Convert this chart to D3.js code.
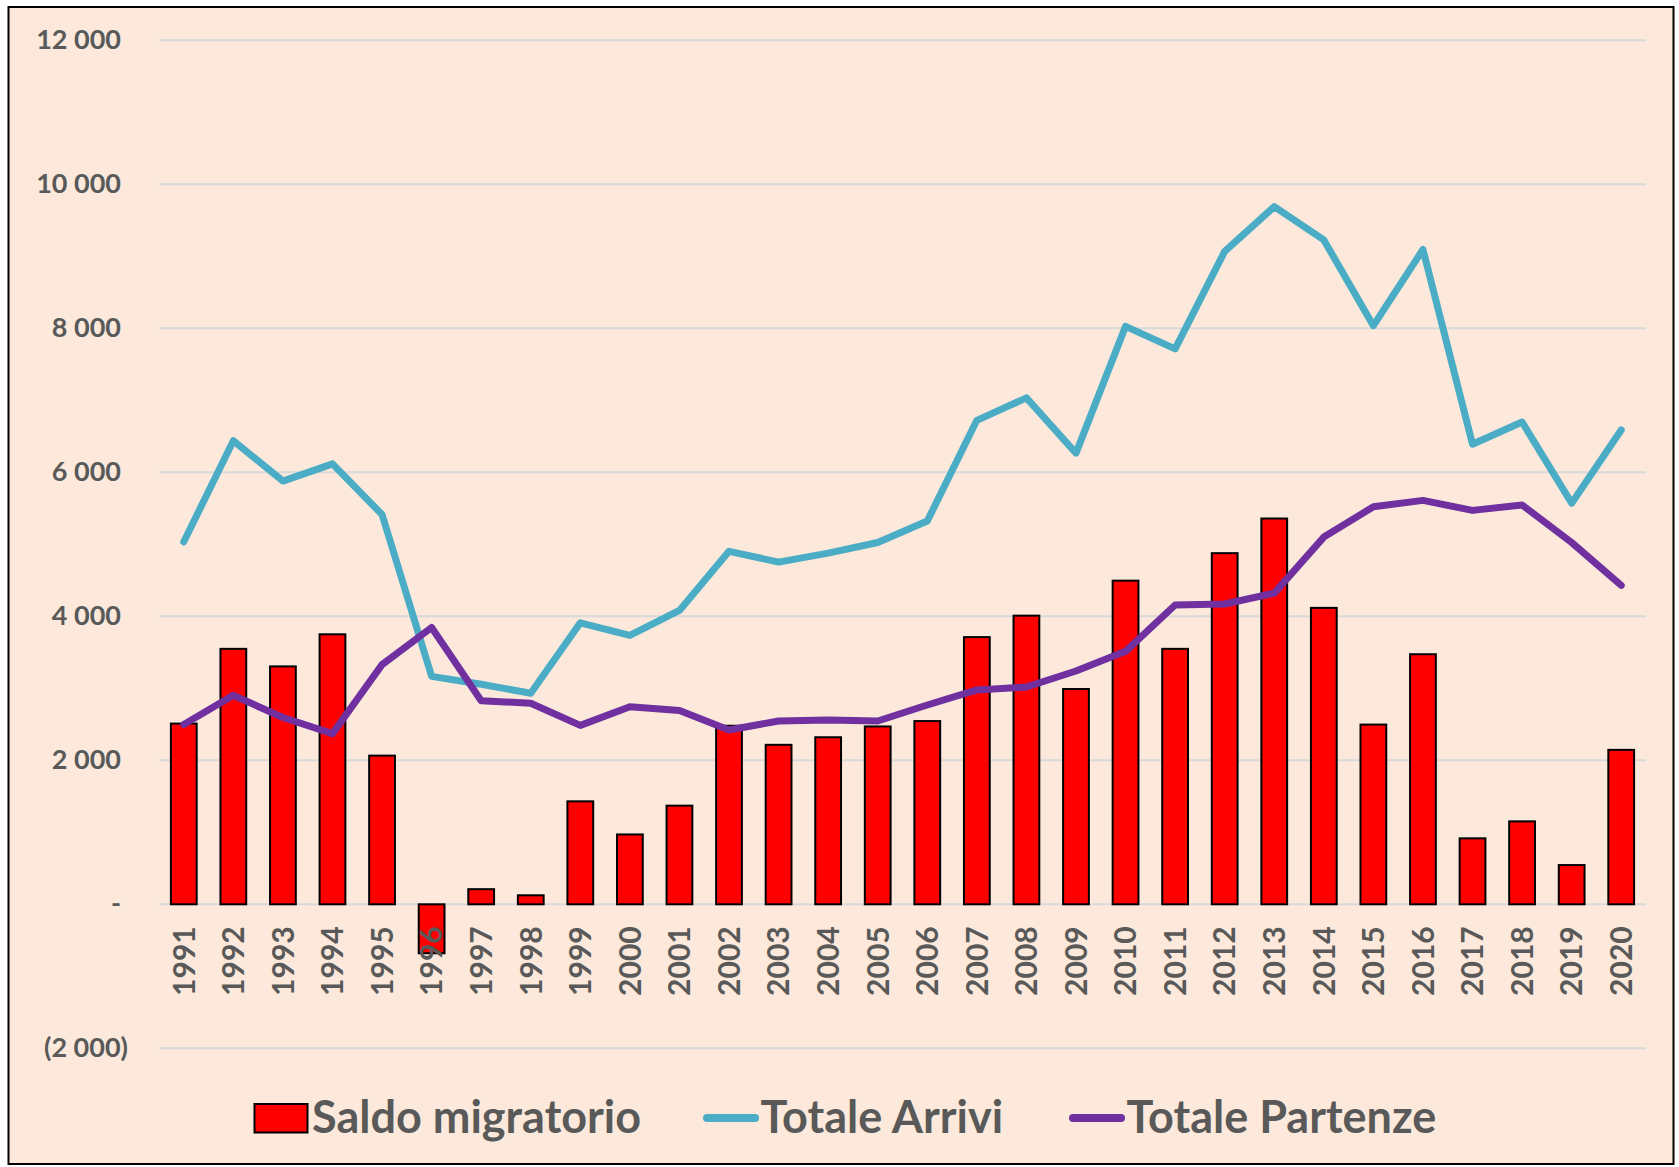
<!DOCTYPE html>
<html>
<head>
<meta charset="utf-8">
<script src="https://cdn.jsdelivr.net/npm/d3@7"></script>
<style>
  body { margin: 0; background: #ffffff; }
  text { font-family: Lato, "Open Sans", sans-serif; font-weight: bold; fill: #595959; }
</style>
</head>
<body>
<svg id="drawing_region"></svg>
<script>
const years = d3.range(1991, 2021).map(String);
const saldo = [2510, 3548, 3304, 3750, 2065, -680, 210, 125, 1430, 970,
               1370, 2480, 2215, 2320, 2470, 2545, 3711, 4009, 2990, 4495,
               3548, 4877, 5358, 4117, 2496, 3473, 916, 1152, 545, 2145];
const arrivi = [5035, 6439, 5878, 6117, 5413, 3166, 3056, 2932, 3909, 3735,
                4082, 4902, 4753, 4877, 5025, 5323, 6722, 7034, 6266, 8027,
                7715, 9069, 9689, 9227, 8037, 9094, 6390, 6698, 5571, 6588];
const partenze = [2496, 2902, 2595, 2371, 3329, 3845, 2828, 2793, 2485, 2743,
                  2693, 2421, 2546, 2560, 2546, 2768, 2977, 3018, 3240, 3513,
                  4157, 4171, 4321, 5100, 5521, 5610, 5471, 5546, 5025, 4430];
const yTicks = [-2000, 0, 2000, 4000, 6000, 8000, 10000, 12000];
const legendNames = ['Saldo migratorio', 'Totale Arrivi', 'Totale Partenze'];

const config = {
    width: 1679,
    height: 1167,
    plot: {left: 159, right: 1646, top: 40.3, bottom: 1048.3},
    bg: '#fce9db',
    bar: '#ff0000',
    arriviColor: '#4bacc6',
    partenzeColor: '#7030a0'
};

const svg = d3.select('#drawing_region')
    .attr('width', config.width)
    .attr('height', config.height);

// frame
svg.append('rect')
    .attr('x', 8.5).attr('y', 7)
    .attr('width', 1665).attr('height', 1157)
    .attr('fill', config.bg)
    .attr('stroke', '#000').attr('stroke-width', 2);

const xscale = d3.scaleBand()
    .domain(years)
    .range([config.plot.left, config.plot.right])
    .paddingInner(0.48)
    .paddingOuter(0.24);

const yscale = d3.scaleLinear()
    .domain([-2000, 12000])
    .range([config.plot.bottom, config.plot.top]);

const fmt = v => {
    if (v === 0) return '-';
    const s = d3.format(',')(Math.abs(v)).replace(/,/g, ' ');
    return v < 0 ? '(' + s + ')' : s;
};

// gridlines
svg.append('g')
    .selectAll('line')
    .data(yTicks)
    .join('line')
    .attr('x1', config.plot.left)
    .attr('x2', config.plot.right)
    .attr('y1', d => yscale(d))
    .attr('y2', d => yscale(d))
    .attr('stroke', '#d9d9d9')
    .attr('stroke-width', 2);

// y axis
const yaxis = d3.axisLeft(yscale)
    .tickValues(yTicks)
    .tickFormat(fmt)
    .tickSize(0)
    .tickPadding(0);

const yaxis_group = svg.append('g')
    .attr('transform', 'translate(128, 0)')
    .call(yaxis);
yaxis_group.select('.domain').remove();
yaxis_group.selectAll('text')
    .style('font-size', '27px')
    .style('font-family', 'Lato, sans-serif')
    .style('font-weight', 'bold')
    .attr('fill', '#595959')
    .attr('dx', d => d < 0 ? 0 : -7);

// bars
svg.append('g')
    .selectAll('rect')
    .data(years)
    .join('rect')
    .attr('x', d => xscale(d))
    .attr('width', xscale.bandwidth())
    .attr('y', (d, i) => yscale(Math.max(0, saldo[i])))
    .attr('height', (d, i) => Math.abs(yscale(saldo[i]) - yscale(0)))
    .attr('fill', config.bar)
    .attr('stroke', '#000')
    .attr('stroke-width', 2);

// x axis labels
const xaxis = d3.axisBottom(xscale).tickSize(0);
const xaxis_group = svg.append('g')
    .attr('transform', `translate(0, ${yscale(0)})`)
    .call(xaxis);
xaxis_group.select('.domain').remove();
xaxis_group.selectAll('text')
    .attr('transform', 'rotate(-90)')
    .attr('x', -22)
    .attr('y', 0)
    .attr('dy', '0.36em')
    .style('text-anchor', 'end')
    .style('font-size', '30px')
    .style('font-family', 'Lato, sans-serif')
    .style('font-weight', 'bold')
    .attr('fill', '#595959');

// lines
const line = d3.line()
    .x((d, i) => xscale(years[i]) + xscale.bandwidth() / 2)
    .y(d => yscale(d));

svg.append('path')
    .attr('d', line(arrivi))
    .attr('fill', 'none')
    .attr('stroke', config.arriviColor)
    .attr('stroke-width', 7)
    .attr('stroke-linecap', 'round')
    .attr('stroke-linejoin', 'round');

svg.append('path')
    .attr('d', line(partenze))
    .attr('fill', 'none')
    .attr('stroke', config.partenzeColor)
    .attr('stroke-width', 7)
    .attr('stroke-linecap', 'round')
    .attr('stroke-linejoin', 'round');

// legend
const legendY = 1118;
const legendX = [254.5, 703, 1069];
const legend = svg.append('g');

legend.append('rect')
    .attr('x', legendX[0]).attr('y', legendY - 14)
    .attr('width', 53).attr('height', 28.5)
    .attr('fill', config.bar)
    .attr('stroke', '#000').attr('stroke-width', 2);

[config.arriviColor, config.partenzeColor].forEach((c, i) => {
    legend.append('line')
        .attr('x1', legendX[i + 1] + 4).attr('x2', legendX[i + 1] + 52)
        .attr('y1', legendY).attr('y2', legendY)
        .attr('stroke', c)
        .attr('stroke-width', 8)
        .attr('stroke-linecap', 'round');
});

legendNames.forEach((name, i) => {
    legend.append('text')
        .attr('x', legendX[i] + 57.5)
        .attr('y', 1133)
        .style('font-size', '45px')
        .text(name);
});
</script>
</body>
</html>
